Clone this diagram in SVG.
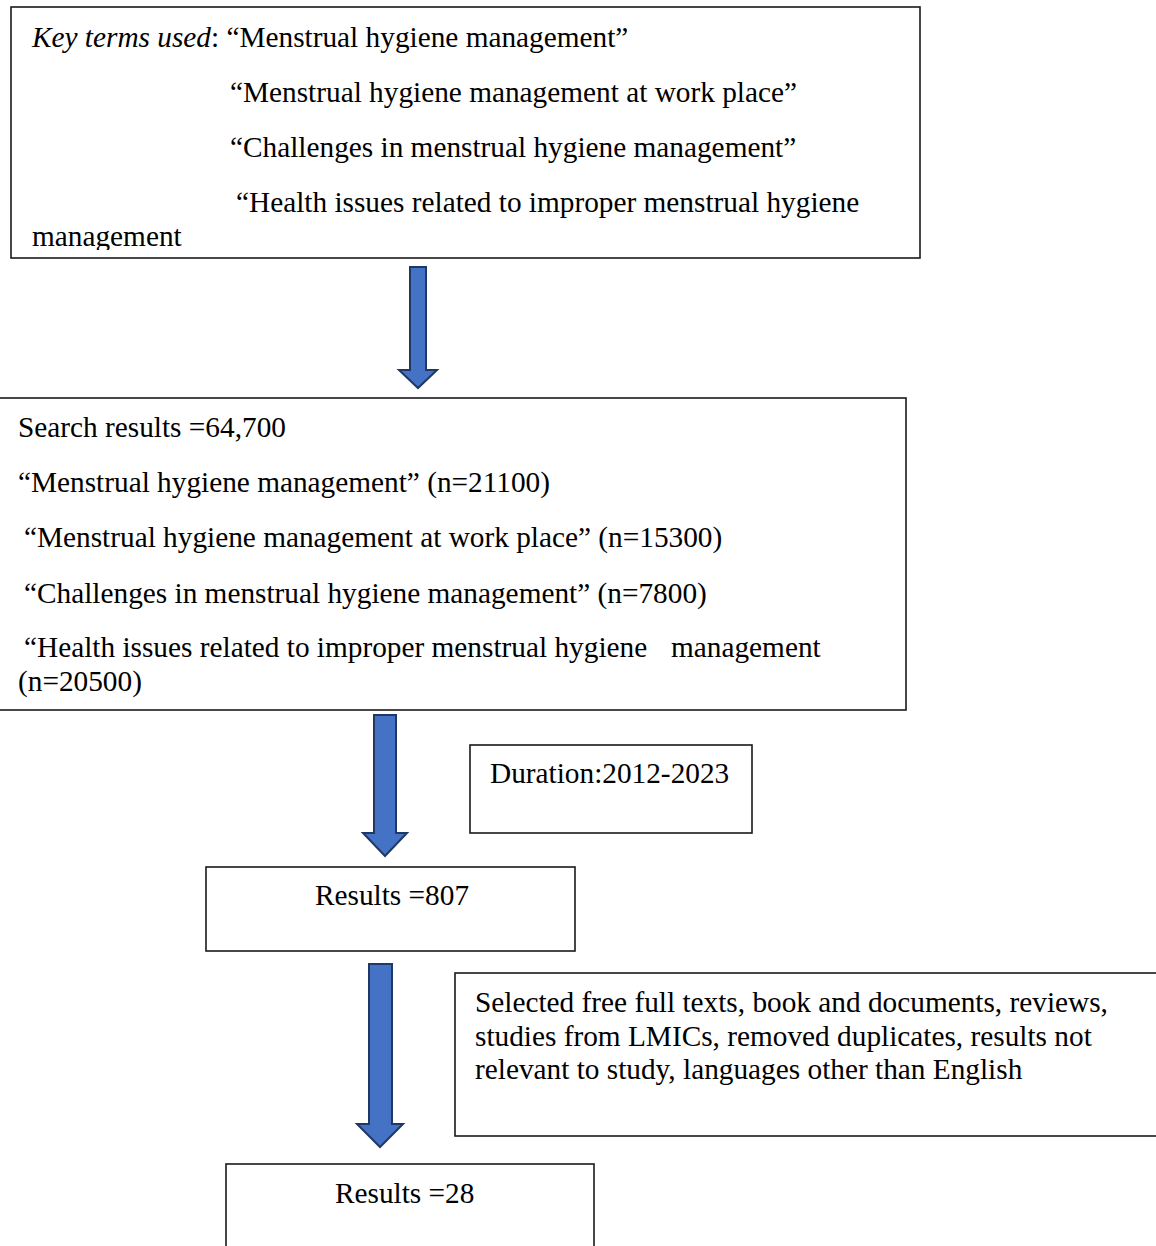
<svg xmlns="http://www.w3.org/2000/svg" width="1156" height="1246" viewBox="0 0 1156 1246">
<defs>
<style>
.box{fill:#fff;stroke:#1a1a1a;stroke-width:1.6}
.t{font-family:"Liberation Serif","Times New Roman",serif;font-size:29.3px;fill:#000}
.arr{fill:#4472C4;stroke:#1F3864;stroke-width:2;stroke-linejoin:miter}
</style>
<clipPath id="c1"><rect x="11" y="7" width="909" height="243"/></clipPath>
</defs>
<rect width="1156" height="1246" fill="#fff"/>
<g id="keyterms">
<rect class="box" x="11" y="7" width="909" height="251"/>
<g clip-path="url(#c1)">
<text class="t" x="32" y="47"><tspan font-style="italic">Key terms used</tspan>: “Menstrual hygiene management”</text>
<text class="t" x="230" y="102">“Menstrual hygiene management at work place”</text>
<text class="t" x="230" y="157">“Challenges in menstrual hygiene management”</text>
<text class="t" x="236" y="212">“Health issues related to improper menstrual hygiene</text>
<text class="t" x="32" y="246">management</text>
</g>
</g>
<g id="search">
<rect class="box" x="-2" y="398" width="908" height="312"/>
<text class="t" x="18" y="437">Search results =64,700</text>
<text class="t" x="18" y="492">“Menstrual hygiene management” (n=21100)</text>
<text class="t" x="24" y="547">“Menstrual hygiene management at work place” (n=15300)</text>
<text class="t" x="24" y="603">“Challenges in menstrual hygiene management” (n=7800)</text>
<text class="t" x="24" y="657">“Health issues related to improper menstrual hygiene<tspan x="671">management</tspan></text>
<text class="t" x="18" y="691">(n=20500)</text>
</g>
<g id="duration">
<rect class="box" x="470" y="745" width="282" height="88"/>
<text class="t" x="490" y="783">Duration:2012-2023</text>
</g>
<g id="results807">
<rect class="box" x="206" y="867" width="369" height="84"/>
<text class="t" x="315" y="905">Results =807</text>
</g>
<g id="selection">
<rect class="box" x="455" y="973" width="702" height="163"/>
<text class="t" x="475" y="1012">Selected free full texts, book and documents, reviews,</text>
<text class="t" x="475" y="1046">studies from LMICs, removed duplicates, results not</text>
<text class="t" x="475" y="1079">relevant to study, languages other than English</text>
</g>
<g id="results28">
<rect class="box" x="226" y="1164" width="368" height="90"/>
<text class="t" x="335" y="1203">Results =28</text>
</g>
<g id="connectors">
<polygon class="arr" points="410,267 426,267 426,370 437,370 418,388 399,370 410,370"/>
<polygon class="arr" points="374,715 396,715 396,833 407,833 385,856 363,833 374,833"/>
<polygon class="arr" points="369,964 392,964 392,1124 403,1124 380,1147 357,1124 369,1124"/>
</g>
</svg>
